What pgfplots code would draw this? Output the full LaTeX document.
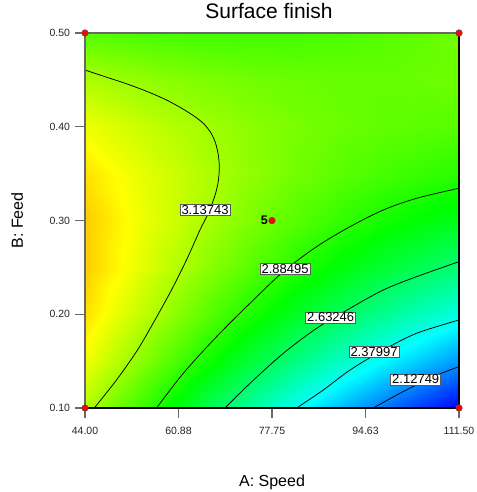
\documentclass[border=0pt]{standalone}
\usepackage{fontspec}
\setmainfont{Liberation Sans}
\usepackage{pgfplots}
\pgfplotsset{compat=1.18}

\definecolor{framegray}{RGB}{105,105,105}
\definecolor{lblborder}{RGB}{90,90,90}

\tikzset{lbl/.style={fill=white, draw=lblborder, line width=0.5pt, inner xsep=1.5pt, inner ysep=1pt,
    text height=9pt, text depth=0pt, font=\fontsize{13}{14}\selectfont}}

% fitted response on a 9 x 9 grid (A varies fastest)
\pgfplotstableread{
A B f
44 0.10 3.177
52.4375 0.10 2.987
60.875 0.10 2.805
69.3125 0.10 2.631
77.75 0.10 2.465
86.1875 0.10 2.307
94.625 0.10 2.156
103.0625 0.10 2.013
111.5 0.10 1.878
44 0.15 3.299
52.4375 0.15 3.130
60.875 0.15 2.969
69.3125 0.15 2.816
77.75 0.15 2.671
86.1875 0.15 2.534
94.625 0.15 2.404
103.0625 0.15 2.282
111.5 0.15 2.168
44 0.20 3.380
52.4375 0.20 3.232
60.875 0.20 3.092
69.3125 0.20 2.960
77.75 0.20 2.836
86.1875 0.20 2.720
94.625 0.20 2.611
103.0625 0.20 2.510
111.5 0.20 2.417
44 0.25 3.419
52.4375 0.25 3.293
60.875 0.25 3.174
69.3125 0.25 3.063
77.75 0.25 2.960
86.1875 0.25 2.865
94.625 0.25 2.777
103.0625 0.25 2.698
111.5 0.25 2.626
44 0.30 3.418
52.4375 0.30 3.313
60.875 0.30 3.215
69.3125 0.30 3.125
77.75 0.30 3.043
86.1875 0.30 2.969
94.625 0.30 2.902
103.0625 0.30 2.844
111.5 0.30 2.793
44 0.35 3.376
52.4375 0.35 3.292
60.875 0.35 3.215
69.3125 0.35 3.146
77.75 0.35 3.085
86.1875 0.35 3.032
94.625 0.35 2.986
103.0625 0.35 2.949
111.5 0.35 2.919
44 0.40 3.293
52.4375 0.40 3.229
60.875 0.40 3.174
69.3125 0.40 3.126
77.75 0.40 3.086
86.1875 0.40 3.054
94.625 0.40 3.030
103.0625 0.40 3.013
111.5 0.40 3.004
44 0.45 3.168
52.4375 0.45 3.126
60.875 0.45 3.092
69.3125 0.45 3.065
77.75 0.45 3.046
86.1875 0.45 3.035
94.625 0.45 3.032
103.0625 0.45 3.036
111.5 0.45 3.049
44 0.50 3.003
52.4375 0.50 2.982
60.875 0.50 2.968
69.3125 0.50 2.963
77.75 0.50 2.965
86.1875 0.50 2.975
94.625 0.50 2.993
103.0625 0.50 3.019
111.5 0.50 3.052
}\surfacegrid

\begin{document}
\begin{tikzpicture}
\useasboundingbox (-85pt,-84pt) rectangle (391pt,408pt);
% outward tick marks along the lower and left edges of the 374pt x 375pt plot box
\draw[framegray, line width=1.2pt]
  (0pt,0pt) -- (0pt,-10pt) (93.5pt,0pt) -- (93.5pt,-10pt)
  (187pt,0pt) -- (187pt,-10pt) (280.5pt,0pt) -- (280.5pt,-10pt)
  (374pt,0pt) -- (374pt,-10pt)
  (0pt,0pt) -- (-10pt,0pt) (0pt,93.75pt) -- (-10pt,93.75pt)
  (0pt,187.5pt) -- (-10pt,187.5pt) (0pt,281.25pt) -- (-10pt,281.25pt)
  (0pt,375pt) -- (-10pt,375pt);
\begin{axis}[
  at={(0,0)}, anchor=south west,
  scale only axis, width=374pt, height=375pt,
  xmin=44, xmax=111.5, ymin=0.1, ymax=0.5,
  clip=false,
  axis line style={draw=none},
  colormap={designexpert}{rgb255=(0,0,255) rgb255=(0,255,255) rgb255=(0,255,0) rgb255=(255,255,0) rgb255=(255,0,0)},
  point meta min=1.88, point meta max=3.80,
  xtick={44,60.875,77.75,94.625,111.5},
  xticklabels={44.00,60.88,77.75,94.63,111.50},
  ytick={0.1,0.2,0.3,0.4,0.5},
  yticklabels={0.10,0.20,0.30,0.40,0.50},
  xtick pos=bottom, ytick pos=left,
  tick align=outside, major tick length=10pt,
  major tick style={draw=framegray, line width=1.2pt},
  /pgf/number format/assume math mode=true,
  ticklabel style={font=\fontsize{10.5}{12}\selectfont, text=black!85},
  xticklabel style={yshift=-5.5pt},
  yticklabel style={xshift=-1.5pt},
  title={Surface finish},
  title style={font=\fontsize{21}{24}\selectfont, at={(axis description cs:0.5,1)}, anchor=base, yshift=8.5pt, xshift=-3pt},
  xlabel={A: Speed},
  xlabel style={font=\fontsize{16}{18}\selectfont, at={(axis description cs:0.5,0)}, anchor=base, yshift=-78pt},
  ylabel={B: Feed},
  ylabel style={font=\fontsize{16}{18}\selectfont, at={([xshift=-62pt]axis description cs:0,0.5)}, anchor=base},
]
% coloured response surface
\addplot[surf, shader=interp, mesh/cols=9, point meta=explicit] table[x=A, y=B, meta=f] {\surfacegrid};

% contour lines
\addplot[black, line width=0.75pt, smooth] coordinates {
 (44,0.4605) (47.61,0.4534) (51.22,0.4464) (54.83,0.4385) (58.44,0.4293) (61.45,0.4197)
 (63.85,0.4107) (65.48,0.4029) (66.74,0.3933) (67.55,0.3827) (68.06,0.3699) (68.24,0.3571)
 (68.09,0.3432) (67.64,0.3304) (66.92,0.3176) (65.93,0.3037) (64.75,0.2899) (62.32,0.2579)
 (59.61,0.2259) (56.63,0.1939) (53.48,0.1619) (49.69,0.1299) (45.68,0.1)};
\addplot[black, line width=0.75pt, smooth] coordinates {
 (56.92,0.1) (61.74,0.1370) (67.75,0.1761) (73.78,0.2117) (79.79,0.2454) (85.80,0.2721)
 (91.83,0.2934) (97.84,0.3112) (103.85,0.3237) (111.5,0.3344)};
\addplot[black, line width=0.75pt, smooth] coordinates {
 (69.27,0.1) (73.78,0.1263) (79.79,0.1583) (85.80,0.1850) (91.83,0.2063) (97.84,0.2259)
 (103.85,0.2401) (111.5,0.2561)};
\addplot[black, line width=0.75pt, smooth] coordinates {
 (82.19,0.1) (87.01,0.1192) (91.83,0.1405) (97.84,0.1619) (103.85,0.1797) (111.5,0.1939)};
\addplot[black, line width=0.75pt, smooth] coordinates {
 (96.03,0.1) (100.85,0.1157) (106.86,0.1334) (111.5,0.1441)};

% contour labels
\node[lbl] at (axis cs:65.66,0.3112) {3.13743};
\node[lbl] at (axis cs:80.10,0.2480) {2.88495};
\node[lbl] at (axis cs:88.34,0.1967) {2.63246};
\node[lbl] at (axis cs:96.16,0.1597) {2.37997};
\node[lbl] at (axis cs:103.69,0.1306) {2.12749};

% frame
\draw[framegray, line width=1.3pt] (axis cs:44,0.1) -- (axis cs:44,0.5) -- (axis cs:111.5,0.5);
\draw[black, line width=1.3pt] (axis cs:44,0.1) -- (axis cs:111.5,0.1) -- (axis cs:111.5,0.5);

% design points
\addplot[only marks, mark=*, mark size=3.3pt, mark options={fill=red, draw=black!70, line width=0.5pt}]
 coordinates {(44,0.1) (44,0.5) (111.5,0.1) (111.5,0.5) (77.75,0.3)};
\node[anchor=east, inner sep=0pt, xshift=-4pt, font=\bfseries\fontsize{12.5}{14}\selectfont] at (axis cs:77.75,0.3) {5};
\end{axis}
\end{tikzpicture}
\end{document}
